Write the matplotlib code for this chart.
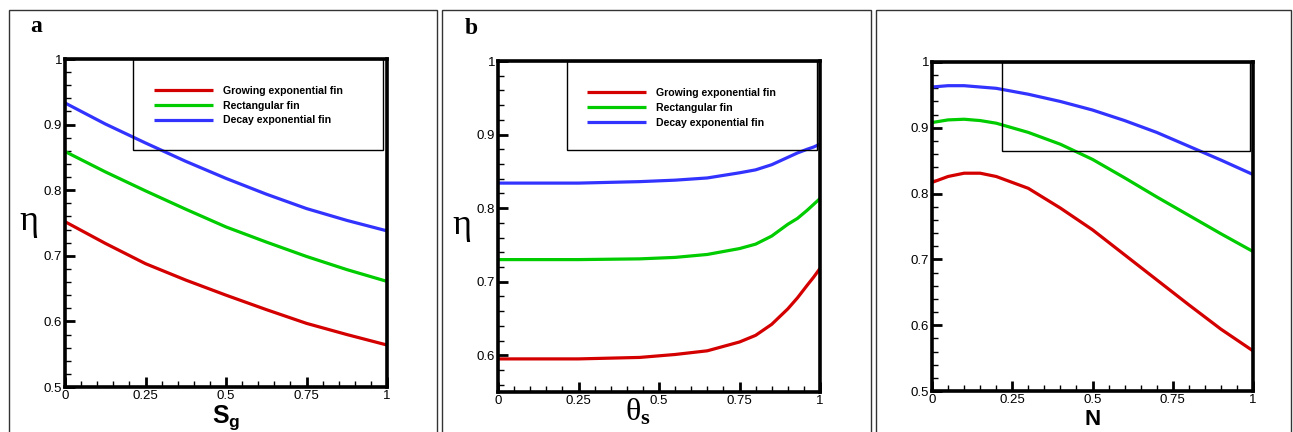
import numpy as np
import matplotlib
matplotlib.use('Agg')
import matplotlib.pyplot as plt
from matplotlib.patches import Rectangle
from matplotlib.ticker import MultipleLocator

plt.rcParams['font.family'] = ['Liberation Sans', 'DejaVu Sans']
plt.rcParams['mathtext.fontset'] = 'custom'
plt.rcParams['mathtext.rm'] = 'Liberation Serif'
plt.rcParams['mathtext.it'] = 'Liberation Serif'
plt.rcParams['mathtext.bf'] = 'Liberation Serif:bold'
plt.rcParams['mathtext.sf'] = 'Liberation Sans:bold'

# ---- data ----
series_names = ['Growing exponential fin', 'Rectangular fin', 'Decay exponential fin']
series_colors = ['#d40000', '#00cc00', '#3333ff']

# panel a : efficiency vs S_g
sg = [0, 0.125, 0.25, 0.375, 0.5, 0.625, 0.75, 0.875, 1.0]
eta_a_grow = [0.752, 0.719, 0.688, 0.663, 0.640, 0.618, 0.597, 0.580, 0.564]
eta_a_rect = [0.859, 0.828, 0.799, 0.771, 0.744, 0.721, 0.699, 0.679, 0.661]
eta_a_decay = [0.933, 0.901, 0.872, 0.844, 0.818, 0.794, 0.772, 0.754, 0.738]

# panel b : efficiency vs theta_s
theta = [0, 0.25, 0.44, 0.55, 0.65, 0.75, 0.8, 0.85, 0.9, 0.93, 0.96, 0.98, 1.0]
eta_b_grow = [0.595, 0.595, 0.597, 0.601, 0.606, 0.618, 0.627, 0.642, 0.663, 0.678, 0.695, 0.706, 0.718]
eta_b_rect = [0.730, 0.730, 0.731, 0.733, 0.737, 0.745, 0.751, 0.762, 0.778, 0.786, 0.797, 0.805, 0.813]
eta_b_decay = [0.834, 0.834, 0.836, 0.838, 0.841, 0.848, 0.852, 0.859, 0.869, 0.875, 0.880, 0.883, 0.887]

# panel c : efficiency vs N
n_vals = [0, 0.05, 0.1, 0.15, 0.2, 0.3, 0.4, 0.5, 0.6, 0.7, 0.8, 0.9, 1.0]
eta_c_grow = [0.817, 0.826, 0.831, 0.831, 0.826, 0.808, 0.778, 0.745, 0.707, 0.669, 0.631, 0.594, 0.561]
eta_c_rect = [0.908, 0.912, 0.913, 0.911, 0.907, 0.893, 0.875, 0.852, 0.824, 0.795, 0.767, 0.739, 0.712]
eta_c_decay = [0.962, 0.964, 0.964, 0.962, 0.960, 0.951, 0.940, 0.927, 0.911, 0.893, 0.872, 0.851, 0.829]

xticks = [0, 0.25, 0.5, 0.75, 1]
xtick_labels = ['0', '0.25', '0.5', '0.75', '1']

W, H = 1293, 432
fig = plt.figure(figsize=(W / 100, H / 100), dpi=100)


def px_axes(x0, y0, x1, y1):
    return fig.add_axes([x0 / W, 1 - y1 / H, (x1 - x0) / W, (y1 - y0) / H])


# panel frames
for x0, x1 in [(9, 437), (442, 871), (876, 1291)]:
    fig.patches.append(Rectangle((x0 / W, -0.05), (x1 - x0) / W, 1.05 - 10 / H,
                                 transform=fig.transFigure, fill=False,
                                 lw=1.0, ec='#333333'))


def style(ax, ylo, yticks):
    ax.set_xlim(0, 1)
    ax.set_ylim(ylo, 1)
    for s in ax.spines.values():
        s.set_linewidth(2.6)
    ax.set_xticks(xticks)
    ax.set_xticklabels(xtick_labels)
    ax.set_yticks(yticks)
    ax.set_yticklabels([('%g' % t) for t in yticks])
    ax.xaxis.set_minor_locator(MultipleLocator(0.05))
    ax.yaxis.set_minor_locator(MultipleLocator(0.02))
    ax.tick_params(which='both', direction='in', top=False, right=False, labelsize=9.5, pad=2)
    ax.tick_params(which='major', length=7, width=2)
    ax.tick_params(which='minor', length=4.5, width=1)


def draw(ax, x, ys, box, legend=True):
    for y, c, nm in zip(ys, series_colors, series_names):
        ax.plot(x, y, color=c, lw=2.3, label=nm, solid_capstyle='butt')
    bx0, by0, bx1 = box
    ax.add_patch(Rectangle((bx0, by0), bx1 - bx0, 1 - by0, fill=False, lw=1.0, ec='black', zorder=5))
    if legend:
        ax.legend(loc='upper left', bbox_to_anchor=(0.275, 0.918), frameon=False,
                  prop={'weight': 'bold', 'size': 7.6}, handlelength=5.6,
                  handletextpad=1.0, labelspacing=0.45, borderpad=0, borderaxespad=0)


# panel a
ax1 = px_axes(65, 59, 387, 387)
draw(ax1, sg, [eta_a_grow, eta_a_rect, eta_a_decay], (0.21, 0.862, 0.987))
style(ax1, 0.5, [0.5, 0.6, 0.7, 0.8, 0.9, 1])
ax1.set_xlabel(r'$\mathsf{S_g}$', fontsize=18, labelpad=1)
ax1.set_ylabel(r'$\eta$', fontsize=26, rotation=0, labelpad=11, va='center')
fig.text(30 / W, 1 - 26 / H, 'a', fontsize=17, fontweight='bold', family='Liberation Serif', va='center')

# panel b
ax2 = px_axes(498, 61, 820, 392)
draw(ax2, theta, [eta_b_grow, eta_b_rect, eta_b_decay], (0.214, 0.879, 0.992))
style(ax2, 0.55, [0.6, 0.7, 0.8, 0.9, 1])
ax2.set_xlabel(r'$\theta_\mathbf{s}$', fontsize=23)
ax2.xaxis.set_label_coords(0.435, -0.015)
ax2.set_ylabel(r'$\eta$', fontsize=26, rotation=0, labelpad=11, va='center')
fig.text(465 / W, 1 - 28 / H, 'b', fontsize=17, fontweight='bold', family='Liberation Serif', va='center')

# panel c
ax3 = px_axes(932, 62, 1253, 391)
draw(ax3, n_vals, [eta_c_grow, eta_c_rect, eta_c_decay], (0.218, 0.865, 0.99), legend=False)
style(ax3, 0.5, [0.5, 0.6, 0.7, 0.8, 0.9, 1])
ax3.set_xlabel('N', fontsize=16, fontweight='bold', labelpad=2)

fig.savefig('out.png', dpi=100)
